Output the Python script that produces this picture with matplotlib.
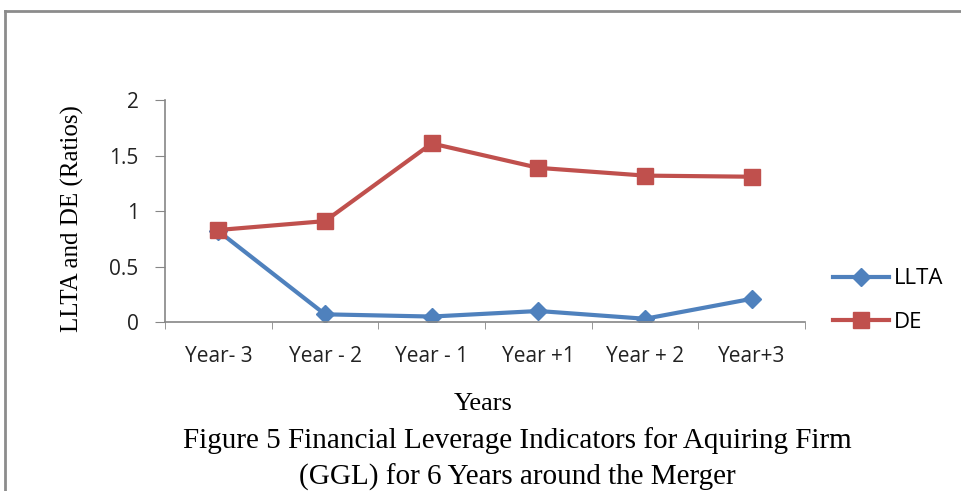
import matplotlib
matplotlib.use("Agg")
import matplotlib.pyplot as plt
from matplotlib.lines import Line2D

# Data
years = ["Year- 3", "Year - 2", "Year - 1", "Year +1", "Year + 2", "Year+3"]
llta = [0.82, 0.07, 0.05, 0.10, 0.03, 0.21]
de = [0.83, 0.91, 1.61, 1.39, 1.32, 1.31]

blue = "#4F81BD"
red = "#C0504D"
axis_gray = "#868686"
serif = "Liberation Serif"
sans = "Open Sans"

fig = plt.figure(figsize=(9.62, 4.91), dpi=100)
ax = fig.add_axes([0.1715, 0.344, 0.6655, 0.452])

x = list(range(len(years)))
ax.plot(x, llta, color=blue, lw=3, marker="D", markersize=9, label="LLTA")
ax.plot(x, de, color=red, lw=3, marker="s", markersize=11, label="DE")

ax.set_xlim(-0.5, len(years) - 0.5)
ax.set_ylim(0, 2)
ax.set_yticks([0, 0.5, 1, 1.5, 2])
ax.set_yticklabels(["0", "0.5", "1", "1.5", "2"])
ax.set_xticks(x)
ax.set_xticklabels(years)
# tick marks sit between categories
ax.set_xticks([i - 0.5 for i in range(len(years) + 1)], minor=True)
ax.tick_params(axis="x", which="major", length=0, pad=17)
ax.tick_params(axis="x", which="minor", length=5, color=axis_gray, direction="out")
ax.tick_params(axis="y", length=7, color=axis_gray, direction="out", pad=12)
for lab in ax.get_xticklabels() + ax.get_yticklabels():
    lab.set_fontfamily(sans)
    lab.set_fontsize(15)
    lab.set_color("#222222")

for s in ["top", "right"]:
    ax.spines[s].set_visible(False)
for s in ["left", "bottom"]:
    ax.spines[s].set_color(axis_gray)
    ax.spines[s].set_linewidth(1.2)

fig.text(0.075, 0.555, "LLTA and DE (Ratios)", rotation=90, ha="center", va="center",
         fontfamily=serif, fontsize=18)
fig.text(0.502, 0.177, "Years", ha="center", va="center", fontfamily=serif, fontsize=19)

ax.legend(loc="center left", bbox_to_anchor=(0.866, 0.388), bbox_transform=fig.transFigure,
          frameon=False, prop={"family": sans, "size": 16}, handlelength=2.5,
          labelspacing=1.0, handletextpad=0.25, borderpad=0, borderaxespad=0)

fig.text(0.538, 0.102, "Figure 5 Financial Leverage Indicators for Aquiring Firm",
         ha="center", va="center", fontfamily=serif, fontsize=21)
fig.text(0.538, 0.028, "(GGL) for 6 Years around the Merger",
         ha="center", va="center", fontfamily=serif, fontsize=21)

# chart-area border (top and left visible)
fig.add_artist(Line2D([0.0052, 1.0], [0.977, 0.977], color="#8c8c8c", lw=2))
fig.add_artist(Line2D([0.0052, 0.0052], [0.0, 0.977], color="#8c8c8c", lw=2))

fig.savefig("out.png", dpi=100)
